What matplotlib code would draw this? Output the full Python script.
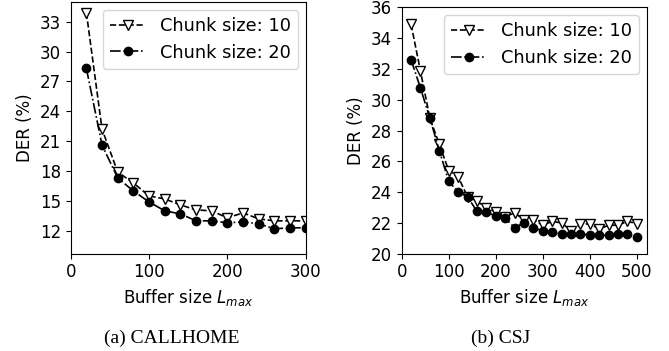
import matplotlib.pyplot as plt

plt.rcParams['font.family'] = 'DejaVu Sans'
plt.rcParams['mathtext.fontset'] = 'dejavusans'

# CALLHOME: buffer size vs DER
ch_buf = [20, 40, 60, 80, 100, 120, 140, 160, 180, 200, 220, 240, 260, 280, 300]
ch_chunk10 = [33.9, 22.2, 17.9, 16.8, 15.5, 15.2, 14.6, 14.1, 14.0, 13.3, 13.8, 13.2, 13.0, 13.0, 13.0]
ch_chunk20 = [28.3, 20.6, 17.3, 16.0, 14.9, 14.0, 13.7, 13.0, 13.0, 12.8, 12.9, 12.7, 12.2, 12.3, 12.3]

# CSJ: buffer size vs DER
csj_buf = [20, 40, 60, 80, 100, 120, 140, 160, 180, 200, 220, 240, 260, 280, 300,
           320, 340, 360, 380, 400, 420, 440, 460, 480, 500]
csj_chunk10 = [34.9, 31.85, 28.8, 27.1, 25.4, 25.0, 23.7, 23.4, 23.0, 22.7, 22.4, 22.65, 22.2,
               22.2, 21.85, 22.1, 22.0, 21.5, 21.9, 21.95, 21.6, 21.85, 21.85, 22.1, 21.95]
csj_chunk20 = [32.6, 30.75, 28.8, 26.7, 24.7, 24.0, 23.7, 22.75, 22.7, 22.45, 22.3, 21.7, 22.0,
               21.65, 21.5, 21.4, 21.25, 21.3, 21.3, 21.2, 21.2, 21.2, 21.3, 21.3, 21.1]

fig = plt.figure(figsize=(6.69, 3.51), dpi=100)
ax1 = fig.add_axes([0.1057, 0.2772, 0.3513, 0.7179])
ax2 = fig.add_axes([0.6004, 0.2772, 0.3663, 0.7020])

def draw(ax, x, y10, y20):
    ax.plot(x, y10, ls='--', c='black', lw=1.2, marker='v', ms=7,
            mfc='white', mec='black', label='Chunk size: 10')
    ax.plot(x, y20, ls='-.', c='black', lw=1.2, marker='o', ms=6,
            label='Chunk size: 20')
    ax.set_xlabel('Buffer size $L_{max}$', fontsize=12)
    ax.set_ylabel('DER (%)', fontsize=12)
    ax.tick_params(axis='both', which='major', labelsize=12)
    ax.legend(fontsize=12.8, loc='upper right', borderaxespad=0.45)

draw(ax1, ch_buf, ch_chunk10, ch_chunk20)
ax1.set_xlim(0, 300)
ax1.set_ylim(9.7, 35.0)
ax1.set_xticks([0, 100, 200, 300])
ax1.set_yticks([12, 15, 18, 21, 24, 27, 30, 33])

draw(ax2, csj_buf, csj_chunk10, csj_chunk20)
ax2.set_xlim(0, 521)
ax2.set_ylim(20, 36)
ax2.set_xticks([0, 100, 200, 300, 400, 500])
ax2.set_yticks([20, 22, 24, 26, 28, 30, 32, 34, 36])

# subfigure captions
fig.text(172 / 669, 1 - 338 / 351, '(a) CALLHOME', ha='center', va='center',
         family='Liberation Serif', fontsize=14)
fig.text(501 / 669, 1 - 338 / 351, '(b) CSJ', ha='center', va='center',
         family='Liberation Serif', fontsize=14)

fig.savefig('out.png', dpi=100)
